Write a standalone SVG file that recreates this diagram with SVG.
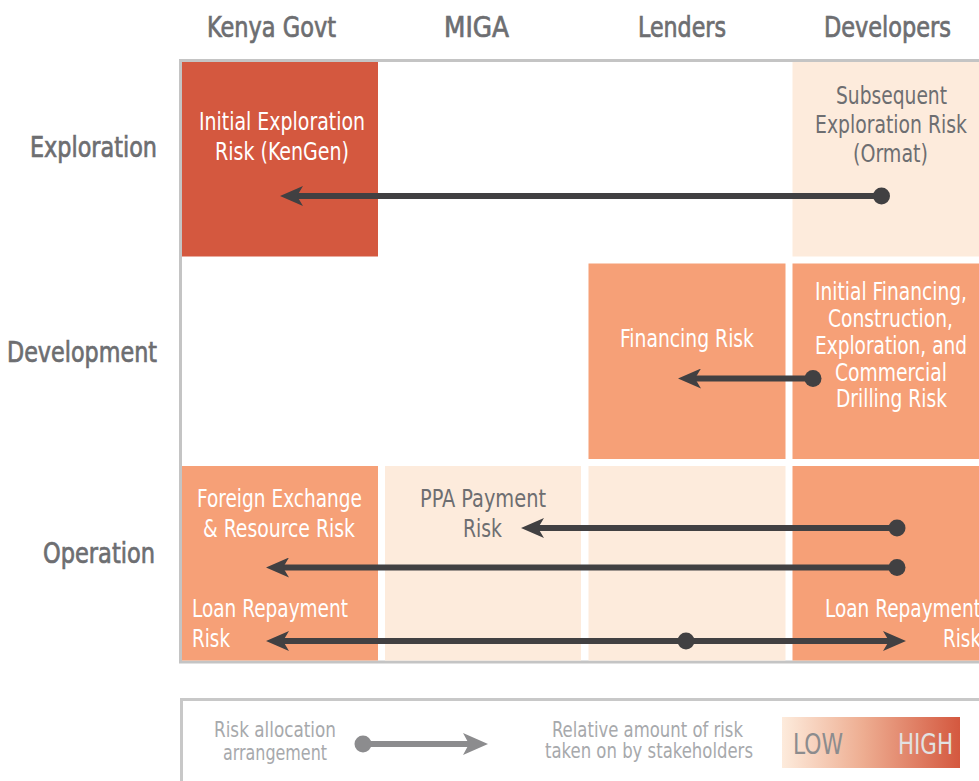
<svg xmlns="http://www.w3.org/2000/svg" width="979" height="781" viewBox="0 0 979 781">
  <style>
    text { font-family: "DejaVu Sans Condensed", "DejaVu Sans", sans-serif; }
    .hdr { font-size: 29px; fill: #6d6e71; stroke: #6d6e71; stroke-width: 0.7px; }
    .body { font-size: 24px; }
    .w { fill: #ffffff; }
    .g { fill: #6d6e71; }
    .lg { font-size: 21px; fill: #a7a9ac; }
    .red { fill: #d4583f; }
    .org { fill: #f6a077; }
    .pale { fill: #fdebdc; }
    .conn { stroke: #414042; stroke-width: 6; fill: none; }
  </style>
  <defs>
    <marker id="ah" viewBox="0 0 23 20" refX="6" refY="10" markerWidth="23" markerHeight="20" markerUnits="userSpaceOnUse" orient="auto-start-reverse">
      <path d="M23,10 L0,0 L6,10 L0,20 Z" fill="#414042"/>
    </marker>
    <marker id="ahg" viewBox="0 0 25 22" refX="6" refY="11" markerWidth="25" markerHeight="22" markerUnits="userSpaceOnUse" orient="auto">
      <path d="M25,11 L0,0 L6,11 L0,22 Z" fill="#8c8c8e"/>
    </marker>
    <linearGradient id="grad" x1="0" y1="0" x2="1" y2="0">
      <stop offset="0" stop-color="#fdebdc"/>
      <stop offset="0.45" stop-color="#eeae92"/>
      <stop offset="1" stop-color="#d4583f"/>
    </linearGradient>
  </defs>

  <rect width="979" height="781" fill="#ffffff"/>

  <g id="headers">
    <text class="hdr" x="207" y="37" textLength="129" lengthAdjust="spacingAndGlyphs">Kenya Govt</text>
    <text class="hdr" x="444" y="37" textLength="65" lengthAdjust="spacingAndGlyphs">MIGA</text>
    <text class="hdr" x="638" y="37" textLength="88" lengthAdjust="spacingAndGlyphs">Lenders</text>
    <text class="hdr" x="824" y="37" textLength="127" lengthAdjust="spacingAndGlyphs">Developers</text>
    <text class="hdr" x="30" y="157" textLength="127" lengthAdjust="spacingAndGlyphs">Exploration</text>
    <text class="hdr" x="7" y="362" textLength="150" lengthAdjust="spacingAndGlyphs">Development</text>
    <text class="hdr" x="43" y="563" textLength="112" lengthAdjust="spacingAndGlyphs">Operation</text>
  </g>

  <rect x="180.5" y="60.5" width="820" height="601.5" fill="#ffffff" stroke="#c4c4c4" stroke-width="3"/>

  <g id="cell-initial-exploration">
    <rect class="red" x="182" y="62" width="196" height="194.5"/>
    <text class="body w" x="199" y="130" textLength="166" lengthAdjust="spacingAndGlyphs">Initial Exploration</text>
    <text class="body w" x="215" y="160" textLength="134" lengthAdjust="spacingAndGlyphs">Risk (KenGen)</text>
  </g>
  <g id="cell-subsequent-exploration">
    <rect class="pale" x="792.5" y="62" width="200" height="194.5"/>
    <text class="body g" x="836" y="104" textLength="111" lengthAdjust="spacingAndGlyphs">Subsequent</text>
    <text class="body g" x="815" y="133" textLength="152" lengthAdjust="spacingAndGlyphs">Exploration Risk</text>
    <text class="body g" x="853" y="162" textLength="75" lengthAdjust="spacingAndGlyphs">(Ormat)</text>
  </g>
  <g id="cell-financing">
    <rect class="org" x="588.5" y="263.5" width="197" height="195.5"/>
    <text class="body w" x="620" y="347" textLength="134" lengthAdjust="spacingAndGlyphs">Financing Risk</text>
  </g>
  <g id="cell-initial-financing">
    <rect class="org" x="792.5" y="263.5" width="200" height="195.5"/>
    <text class="body w" x="815" y="300" textLength="152" lengthAdjust="spacingAndGlyphs">Initial Financing,</text>
    <text class="body w" x="828" y="327" textLength="125" lengthAdjust="spacingAndGlyphs">Construction,</text>
    <text class="body w" x="815" y="354" textLength="152" lengthAdjust="spacingAndGlyphs">Exploration, and</text>
    <text class="body w" x="835" y="381" textLength="112" lengthAdjust="spacingAndGlyphs">Commercial</text>
    <text class="body w" x="836" y="407" textLength="111" lengthAdjust="spacingAndGlyphs">Drilling Risk</text>
  </g>
  <g id="cell-govt-operation">
    <rect class="org" x="182" y="466" width="196" height="194.5"/>
    <text class="body w" x="197" y="507" textLength="165" lengthAdjust="spacingAndGlyphs">Foreign Exchange</text>
    <text class="body w" x="203" y="537" textLength="152" lengthAdjust="spacingAndGlyphs">&amp; Resource Risk</text>
    <text class="body w" x="192" y="617" textLength="156" lengthAdjust="spacingAndGlyphs">Loan Repayment</text>
    <text class="body w" x="192" y="647" textLength="38" lengthAdjust="spacingAndGlyphs">Risk</text>
  </g>
  <g id="cell-ppa">
    <rect class="pale" x="385" y="466" width="196" height="194.5"/>
    <text class="body g" x="420" y="507" textLength="126" lengthAdjust="spacingAndGlyphs">PPA Payment</text>
    <text class="body g" x="463" y="537" textLength="39" lengthAdjust="spacingAndGlyphs">Risk</text>
  </g>
  <g id="cell-lenders-operation">
    <rect class="pale" x="588.5" y="466" width="197" height="194.5"/>
  </g>
  <g id="cell-dev-operation">
    <rect class="org" x="792.5" y="466" width="200" height="194.5"/>
    <text class="body w" x="825" y="617" textLength="156" lengthAdjust="spacingAndGlyphs">Loan Repayment</text>
    <text class="body w" x="943" y="647" textLength="38" lengthAdjust="spacingAndGlyphs">Risk</text>
  </g>

  <g id="connectors">
    <line class="conn" x1="881.5" y1="196" x2="297" y2="196" marker-end="url(#ah)"/>
    <circle cx="881.5" cy="196" r="8.5" fill="#414042"/>
    <line class="conn" x1="813" y1="378.5" x2="695" y2="378.5" marker-end="url(#ah)"/>
    <circle cx="813" cy="378.5" r="8.5" fill="#414042"/>
    <line class="conn" x1="897" y1="528" x2="538" y2="528" marker-end="url(#ah)"/>
    <circle cx="897" cy="528" r="8.5" fill="#414042"/>
    <line class="conn" x1="897" y1="567.5" x2="283" y2="567.5" marker-end="url(#ah)"/>
    <circle cx="897" cy="567.5" r="8.5" fill="#414042"/>
    <line class="conn" x1="283" y1="641" x2="889" y2="641" marker-start="url(#ah)" marker-end="url(#ah)"/>
    <circle cx="686" cy="641" r="8.5" fill="#414042"/>
  </g>

  <g id="legend">
    <rect x="181.5" y="699.5" width="820" height="100" fill="#ffffff" stroke="#c8c8c8" stroke-width="3"/>
    <text class="lg" x="214" y="737" textLength="122" lengthAdjust="spacingAndGlyphs">Risk allocation</text>
    <text class="lg" x="223" y="760" textLength="104" lengthAdjust="spacingAndGlyphs">arrangement</text>
    <line x1="363" y1="744" x2="469" y2="744" stroke="#8c8c8e" stroke-width="6" marker-end="url(#ahg)"/>
    <circle cx="363" cy="744" r="8.5" fill="#8c8c8e"/>
    <text class="lg" x="552" y="737" textLength="191" lengthAdjust="spacingAndGlyphs">Relative amount of risk</text>
    <text class="lg" x="545" y="758" textLength="208" lengthAdjust="spacingAndGlyphs">taken on by stakeholders</text>
    <rect x="782" y="717" width="178" height="51" fill="url(#grad)"/>
    <text x="793" y="754" font-size="29" fill="#8c8c8e" textLength="50" lengthAdjust="spacingAndGlyphs">LOW</text>
    <text x="898" y="754" font-size="29" fill="#e2e2e2" textLength="55" lengthAdjust="spacingAndGlyphs">HIGH</text>
  </g>
</svg>
